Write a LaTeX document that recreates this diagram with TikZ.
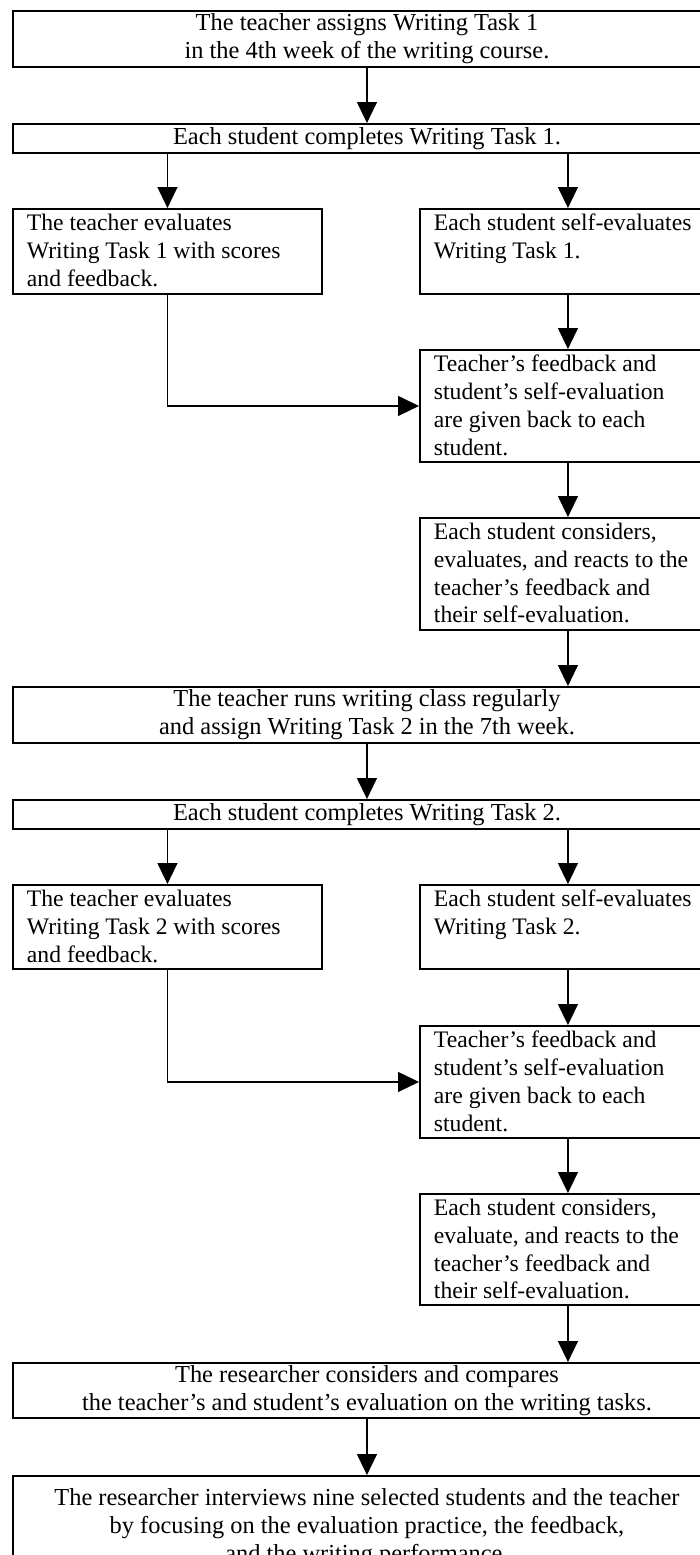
\documentclass[tikz,border=0pt]{standalone}
\usepackage{fontspec}
\setmainfont{Liberation Serif}
\usetikzlibrary{arrows.meta}

% one pixel of the scanned chart
\newlength\pxu
\setlength\pxu{0.5242pt}
% top aligned text for the side boxes: height, width, text
\newcommand{\sidetext}[3]{\parbox[c][#1\pxu][t]{#2\pxu}{\raggedright #3}}

\tikzset{
  flowbox/.style={draw, line width=1pt, anchor=north west},
  widebox/.style={flowbox, inner sep=0pt, align=center, minimum width=708*\pxu,
    font=\fontsize{12.8pt}{14.6pt}\selectfont},
  sidebox/.style={flowbox, inner xsep=14*\pxu, inner ysep=5*\pxu,
    font=\fontsize{12.4pt}{14.6pt}\selectfont},
  flow/.style={black, line width=0.6pt, -{Triangle[length=11pt,width=10.5pt]}}
}

\begin{document}
\begin{tikzpicture}[x=\pxu, y=-\pxu]
	\useasboundingbox (0, 0) rectangle (699, 1555);

	% first writing task
	\node [widebox, minimum height=56*\pxu] at (12, 10) (b1) {The teacher assigns Writing Task 1\\in the 4th week of the writing course.};
	\node [widebox, minimum height=29*\pxu] at (12, 123) (b2) {Each student completes Writing Task 1.};
	\node [sidebox] at (12, 208) (b3) {\sidetext{75}{281}{The teacher evaluates\\Writing Task 1 with scores\\and feedback.}};
	\node [sidebox] at (419, 208) (b4) {\sidetext{75}{268}{Each student self-evaluates\\Writing Task 1.}};
	\node [sidebox] at (419, 349) (b5) {\sidetext{102}{268}{Teacher's feedback and\\student's self-evaluation\\are given back to each\\student.}};
	\node [sidebox] at (419, 517) (b6) {\sidetext{102}{268}{Each student considers,\\evaluates, and reacts to the\\teacher's feedback and\\their self-evaluation.}};

	% second writing task
	\node [widebox, minimum height=56*\pxu] at (12, 686) (b7) {The teacher runs writing class regularly\\and assign Writing Task 2 in the 7th week.};
	\node [widebox, minimum height=29*\pxu] at (12, 799) (b8) {Each student completes Writing Task 2.};
	\node [sidebox] at (12, 884) (b9) {\sidetext{74}{281}{The teacher evaluates\\Writing Task 2 with scores\\and feedback.}};
	\node [sidebox] at (419, 884) (b10) {\sidetext{74}{268}{Each student self-evaluates\\Writing Task 2.}};
	\node [sidebox] at (419, 1025) (b11) {\sidetext{102}{268}{Teacher's feedback and\\student's self-evaluation\\are given back to each\\student.}};
	\node [sidebox] at (419, 1193) (b12) {\sidetext{101}{268}{Each student considers,\\evaluate, and reacts to the\\teacher's feedback and\\their self-evaluation.}};

	% researcher
	\node [widebox, minimum height=55*\pxu] at (12, 1362) (b13) {The researcher considers and compares\\the teacher's and student's evaluation on the writing tasks.};
	\node [widebox, minimum height=104*\pxu] at (12, 1475) (b14) {The researcher interviews nine selected students and the teacher\\by focusing on the evaluation practice, the feedback,\\and the writing performance.};

	\draw [flow] (b1) -- (b2);
	\draw [flow] (b2.south -| b3.north) -- (b3.north);
	\draw [flow] (b2.south -| b4.north) -- (b4.north);
	\draw [flow] (b4) -- (b5);
	\draw [flow] (b3.south) |- (b5.west);
	\draw [flow] (b5) -- (b6);
	\draw [flow] (b6.south) -- (b6.south |- b7.north);

	\draw [flow] (b7) -- (b8);
	\draw [flow] (b8.south -| b9.north) -- (b9.north);
	\draw [flow] (b8.south -| b10.north) -- (b10.north);
	\draw [flow] (b10) -- (b11);
	\draw [flow] (b9.south) |- (b11.west);
	\draw [flow] (b11) -- (b12);
	\draw [flow] (b12.south) -- (b12.south |- b13.north);

	\draw [flow] (b13) -- (b14);
\end{tikzpicture}
\end{document}
